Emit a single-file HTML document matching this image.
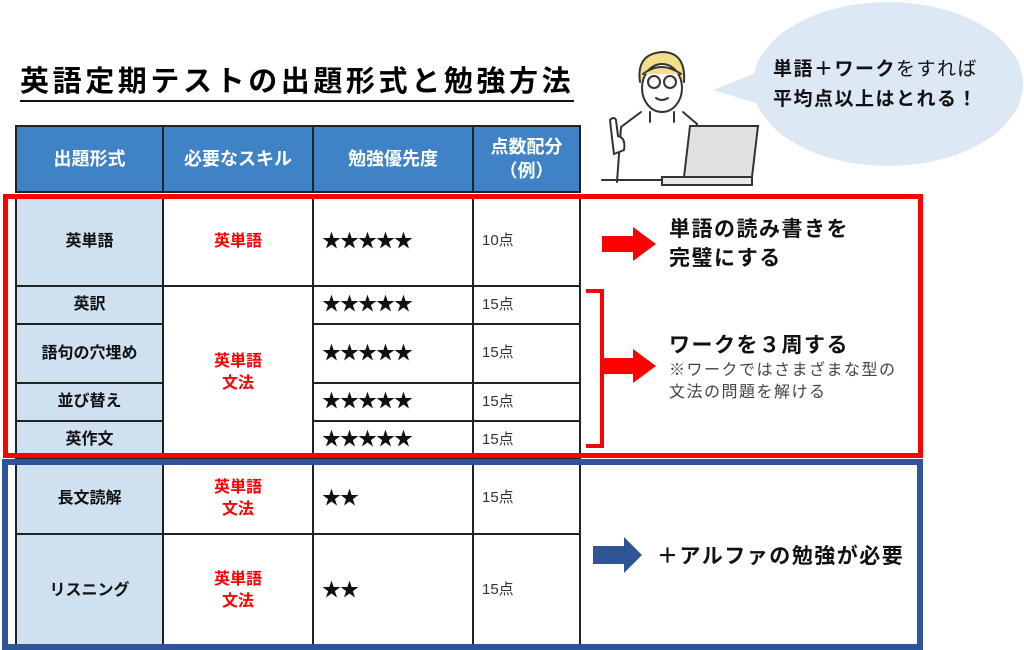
<!DOCTYPE html>
<html><head><meta charset="utf-8"><style>
*{margin:0;padding:0;box-sizing:border-box}
body{width:1024px;height:650px;background:#fff;position:relative;overflow:hidden;font-family:"Liberation Sans","Noto Sans CJK JP",sans-serif}
.a{position:absolute}
.c{position:absolute;border:2px solid #222;display:flex;align-items:center;justify-content:center;text-align:center;font-weight:bold;font-size:16px;color:#111;line-height:1.35}
.h{background:#3f83c6;color:#fff;font-size:18px}
.l{background:#cfe0f1}
.r{color:#f00}
.s{justify-content:flex-start;padding-left:8px;font-size:19px;letter-spacing:-1px}
.p{justify-content:flex-start;padding-left:8px;font-weight:normal;font-size:15px;color:#333}
.t{position:absolute;font-weight:bold;color:#111;white-space:nowrap}
</style></head><body>
<div class="a" style="left:20px;top:64px;font-size:29px;font-weight:bold;letter-spacing:3.6px;border-bottom:2px solid #111;line-height:36px;white-space:nowrap">英語定期テストの出題形式と勉強方法</div>

<div class="c h" style="left:15px;top:125px;width:149px;height:68px">出題形式</div>
<div class="c h" style="left:162px;top:125px;width:152px;height:68px">必要なスキル</div>
<div class="c h" style="left:312px;top:125px;width:162px;height:68px">勉強優先度</div>
<div class="c h" style="left:472px;top:125px;width:109px;height:68px">点数配分<br>（例）</div>

<div class="c l" style="left:15px;top:196px;width:149px;height:91px">英単語</div>
<div class="c r" style="left:162px;top:196px;width:152px;height:91px">英単語</div>
<div class="c s" style="left:312px;top:196px;width:162px;height:91px">★★★★★</div>
<div class="c p" style="left:472px;top:196px;width:109px;height:91px">10点</div>

<div class="c l" style="left:15px;top:285px;width:149px;height:40px">英訳</div>
<div class="c l" style="left:15px;top:323px;width:149px;height:61px">語句の穴埋め</div>
<div class="c l" style="left:15px;top:382px;width:149px;height:40px">並び替え</div>
<div class="c l" style="left:15px;top:420px;width:149px;height:40px">英作文</div>
<div class="c r" style="left:162px;top:285px;width:152px;height:175px">英単語<br>文法</div>
<div class="c s" style="left:312px;top:285px;width:162px;height:40px">★★★★★</div>
<div class="c s" style="left:312px;top:323px;width:162px;height:61px">★★★★★</div>
<div class="c s" style="left:312px;top:382px;width:162px;height:40px">★★★★★</div>
<div class="c s" style="left:312px;top:420px;width:162px;height:40px">★★★★★</div>
<div class="c p" style="left:472px;top:285px;width:109px;height:40px">15点</div>
<div class="c p" style="left:472px;top:323px;width:109px;height:61px">15点</div>
<div class="c p" style="left:472px;top:382px;width:109px;height:40px">15点</div>
<div class="c p" style="left:472px;top:420px;width:109px;height:40px">15点</div>

<div class="c l" style="left:15px;top:462px;width:149px;height:73px">長文読解</div>
<div class="c r" style="left:162px;top:462px;width:152px;height:73px">英単語<br>文法</div>
<div class="c s" style="left:312px;top:462px;width:162px;height:73px">★★</div>
<div class="c p" style="left:472px;top:462px;width:109px;height:73px">15点</div>
<div class="c l" style="left:15px;top:533px;width:149px;height:115px">リスニング</div>
<div class="c r" style="left:162px;top:533px;width:152px;height:115px">英単語<br>文法</div>
<div class="c s" style="left:312px;top:533px;width:162px;height:115px">★★</div>
<div class="c p" style="left:472px;top:533px;width:109px;height:115px">15点</div>
<div class="c" style="left:579px;top:462px;width:340px;height:186px"></div>

<div class="a" style="left:3px;top:194px;width:920px;height:264px;border:5px solid #f00"></div>
<div class="a" style="left:2px;top:459px;width:921px;height:191px;border:6px solid #2f5597"></div>

<svg class="a" style="left:0;top:0" width="1024" height="650">
<polygon points="602,236 633,236 633,227 656,244 633,261 633,252 602,252" fill="#f00"/>
<polyline points="586,291 602,291 602,446 586,446" fill="none" stroke="#f00" stroke-width="4"/>
<polygon points="602,358 633,358 633,349 656,366 633,383 633,374 602,374" fill="#f00"/>
<polygon points="593,546 624,546 624,537 642,555 624,573 624,564 593,564" fill="#2f5597"/>
<ellipse cx="888" cy="84" rx="135" ry="82" fill="#dce8f4"/>
<polygon points="713,90 775,65 785,112" fill="#dce8f4"/>
<g fill="none" stroke="#333" stroke-width="2" stroke-linecap="round">
<path d="M640,82 q-4,-28 22,-30 q24,0 22,30" fill="#f3de8a"/>
<ellipse cx="662" cy="88" rx="20" ry="24" fill="#fff"/>
<path d="M643,74 q18,-14 38,0" fill="#f3de8a"/>
<circle cx="654" cy="82" r="6"/><circle cx="670" cy="82" r="6"/>
<path d="M656,98 q6,4 12,0"/>
<path d="M641,112 l-20,15 M683,112 l14,12 M650,112 l0,10 M674,112 l0,10"/>
<path d="M621,127 l-4,55 M697,124 l-2,20"/>
<path d="M612,138 l-2,-18 q4,-4 6,0 l2,16 q8,2 6,14 l-10,4 z" fill="#fff"/>
<path d="M602,180 l60,0"/>
<polygon points="690,126 758,126 752,177 684,177" fill="#e0e0e0"/>
<rect x="662" y="177" width="90" height="8" fill="#e8e8e8"/>
</g>
</svg>
<div class="t" style="left:669px;top:215px;font-size:21px;line-height:29px;letter-spacing:1.5px">単語の読み書きを<br>完璧にする</div>
<div class="t" style="left:669px;top:331px;font-size:21px;line-height:29px;letter-spacing:1.5px">ワークを３周する</div>
<div class="a" style="left:669px;top:360px;font-size:16px;line-height:22px;color:#444;letter-spacing:1.5px;white-space:nowrap">※ワークではさまざまな型の<br>文法の問題を解ける</div>
<div class="t" style="left:657px;top:540px;font-size:21px;letter-spacing:1.5px">＋アルファの勉強が必要</div>
<div class="t" style="left:773px;top:55px;font-size:19px;line-height:30px;letter-spacing:1.5px">単語＋ワーク<span style="font-weight:normal">をすれば</span><br>平均点以上はとれる！</div>
</body></html>
